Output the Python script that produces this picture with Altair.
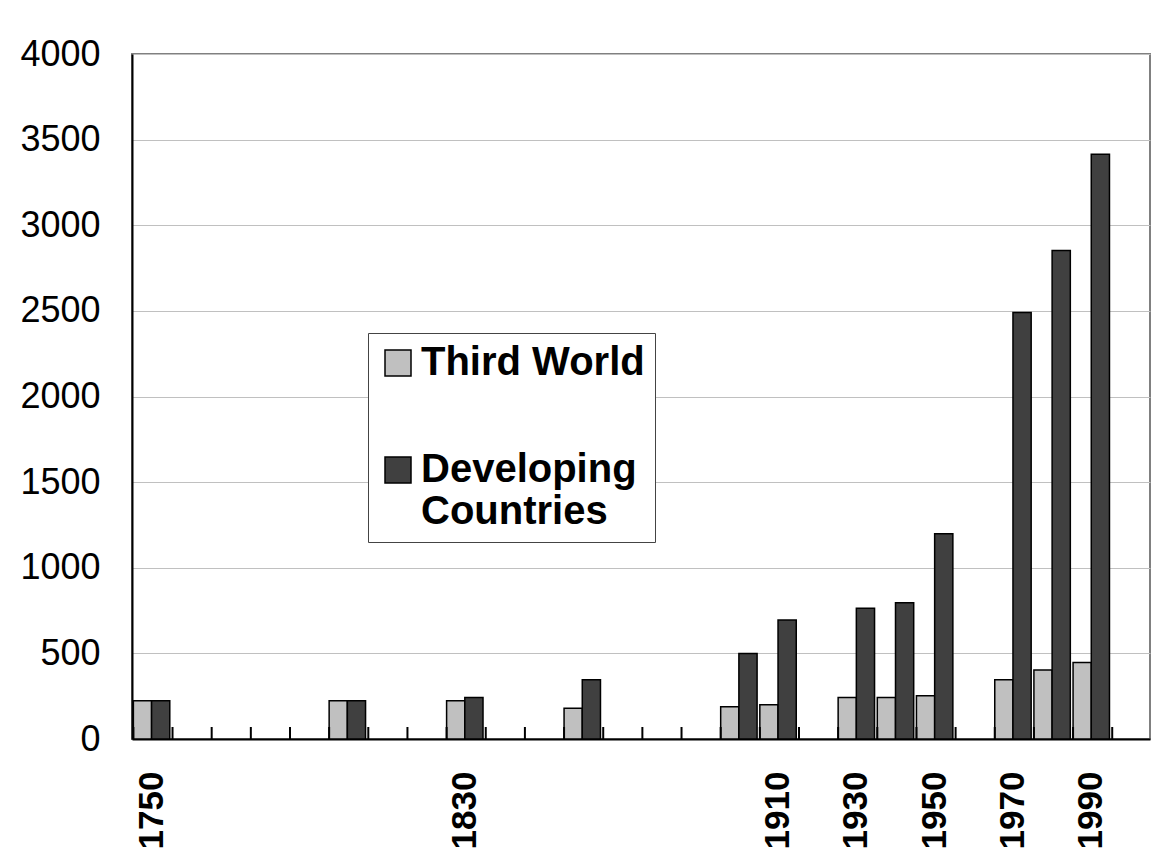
import altair as alt
import pandas as pd

# Category axis (10-year slots)
YEARS = ["1750", "1760", "1770", "1780", "1790", "1800", "1810", "1820", "1830",
         "1840", "1850", "1860", "1870", "1880", "1890", "1900", "1910", "1920",
         "1930", "1940", "1950", "1960", "1970", "1980", "1990", "2000"]
LABEL_YEARS = ["1750", "1830", "1910", "1930", "1950", "1970", "1990"]

# Years that have bars
BAR_YEARS = ["1750", "1800", "1830", "1860", "1900", "1910", "1930", "1940",
             "1950", "1970", "1980", "1990"]
THIRD_WORLD = [224, 224, 224, 179, 189, 200, 243, 243, 253, 346, 403, 447]
DEVELOPING = [224, 224, 243, 346, 500, 695, 763, 796, 1199, 2491, 2852, 3415]

SERIES = ["Third World", "Developing Countries"]
COLORS = ["#C0C0C0", "#404040"]
Y_TICKS = [0, 500, 1000, 1500, 2000, 2500, 3000, 3500, 4000]

rows = []
for yr, tw, dv in zip(BAR_YEARS, THIRD_WORLD, DEVELOPING):
    rows.append({"year": yr, "series": SERIES[0], "value": tw})
    rows.append({"year": yr, "series": SERIES[1], "value": dv})
df = pd.DataFrame(rows)
ticks_df = pd.DataFrame({"year": YEARS})

W, H = 1018, 685
FONT = "Liberation Sans"

x_scale = alt.Scale(domain=YEARS, paddingInner=0.07, paddingOuter=0.035)
x_axis = alt.Axis(values=LABEL_YEARS, title=None, labelAngle=270, labelFont=FONT,
                  labelFontSize=35, labelFontWeight="bold", labelColor="black",
                  labelPadding=32, ticks=False, domainColor="black", domainWidth=2,
                  grid=False, labelOverlap=False, labelBound=False)

bars = alt.Chart(df).mark_bar(stroke="black", strokeWidth=1.5).encode(
    x=alt.X("year:N", scale=x_scale, axis=x_axis),
    xOffset=alt.XOffset("series:N", scale=alt.Scale(domain=SERIES), sort=SERIES),
    y=alt.Y("value:Q", scale=alt.Scale(domain=[0, 4000], nice=False),
            axis=alt.Axis(values=Y_TICKS, format="d", title=None, labelFont=FONT,
                          labelFontSize=36, labelColor="black", labelPadding=32,
                          ticks=False, domainColor="black", domainWidth=2,
                          gridColor="#C0C0C0", gridWidth=1, minExtent=124,
                          maxExtent=124)),
    color=alt.Color("series:N", scale=alt.Scale(domain=SERIES, range=COLORS),
                    legend=alt.Legend(title=None, orient="none", legendX=236, legendY=279,
                                      direction="vertical", symbolType="square",
                                      symbolSize=676, symbolStrokeColor="black",
                                      symbolStrokeWidth=1.5,
                                      labelFont=FONT, labelFontSize=40,
                                      labelFontWeight="bold", labelColor="black",
                                      labelLimit=600, labelOffset=3,
                                      rowPadding=67, padding=10, strokeColor="#444444",
                                      fillColor="white",
                                      labelExpr="datum.label == 'Developing Countries' ? ['Developing', 'Countries'] : datum.label")),
)

ticks = alt.Chart(ticks_df).mark_rule(color="black", strokeWidth=2).encode(
    x=alt.X("year:N", scale=x_scale, axis=x_axis, bandPosition=0),
    y=alt.value(H - 12),
    y2=alt.value(H),
)

chart = alt.layer(bars, ticks).properties(
    width=W, height=H,
    padding={"left": 0, "top": 28, "right": 5, "bottom": 0},
    background="white",
).configure_view(stroke="#808080", strokeWidth=2)

chart.save("out.html", embed_options={"renderer": "svg", "actions": False})
